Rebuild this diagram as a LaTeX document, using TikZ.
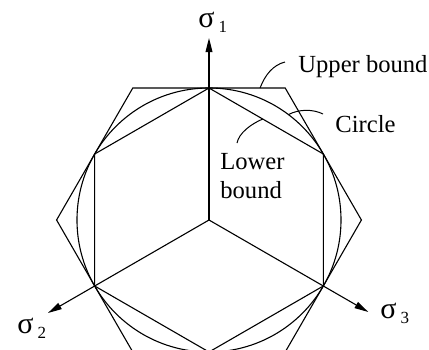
\documentclass[tikz,border=0pt]{standalone}
\usepackage{fontspec}
\setmainfont{Liberation Serif}
\usetikzlibrary{arrows.meta,calc}
\newcommand{\sigmalabel}[1]{{\fontsize{15}{15}\selectfont σ}\,\raisebox{-2.5pt}{\fontsize{8.5}{8.5}\selectfont #1}}

\begin{document}
\begin{tikzpicture}[
    x=0.5pt, y=0.5pt,
    every node/.style={font=\fontsize{12.3}{14.5}\selectfont, inner sep=0pt},
    bound/.style={line width=0.55pt, draw=black},
    axis/.style={-{Triangle[length=7pt,width=3.4pt]}, line width=0.55pt, draw=black},
    leader/.style={line width=0.5pt, draw=black}
]
\useasboundingbox (-209,-129) rectangle (220,220);
\clip (-209,-129) rectangle (220,220);

% centre and hexagon corners
\coordinate (O) at (0,0);
\foreach \a [count=\i] in {90,30,-30,-90,-150,150}
    \coordinate (L\i) at (\a:132);
\foreach \a [count=\i] in {0,60,120,180,240,300}
    \coordinate (U\i) at (\a:152.42);

% bounds
\draw[bound] (O) circle[radius=132];
\draw[bound] (U1) -- (U2) -- (U3) -- (U4) -- (U5) -- (U6) -- cycle;
\draw[bound] (L1) -- (L2) -- (L3) -- (L4) -- (L5) -- (L6) -- cycle;

% principal stress axes
\coordinate (tip1) at (90:182);
\coordinate (tip2) at (-150:186);
\coordinate (tip3) at (-30:184);
\draw[axis] (O) -- (tip1);
\draw[axis] (O) -- (tip2);
\draw[axis] (O) -- (tip3);
\node[anchor=base west] (sig1) at (-11,193) {\sigmalabel{1}};
\node[anchor=base west] (sig2) at (-192,-113) {\sigmalabel{2}};
\node[anchor=base west] (sig3) at (171,-98) {\sigmalabel{3}};

% labels
\node[anchor=base west] (upper) at (89,148) {Upper bound};
\node[anchor=base west] (circ) at (126,88) {Circle};
\node[anchor=north west, align=left] (lower) at (11,67) {Lower\\bound};

\coordinate (upperfoot) at ($(U3)!0.835!(U2)$);
\coordinate (circfoot) at (53:132);
\coordinate (lowerfoot) at ($(L1)!0.47!(L2)$);
\draw[leader] (upperfoot) .. controls (56,145) and (64,155) .. (76,158);
\draw[leader] (circfoot) .. controls (90,111) and (104,111) .. (114,106);
\draw[leader] (28,77) .. controls (30,87) and (42,96) .. (lowerfoot);

\end{tikzpicture}
\end{document}
